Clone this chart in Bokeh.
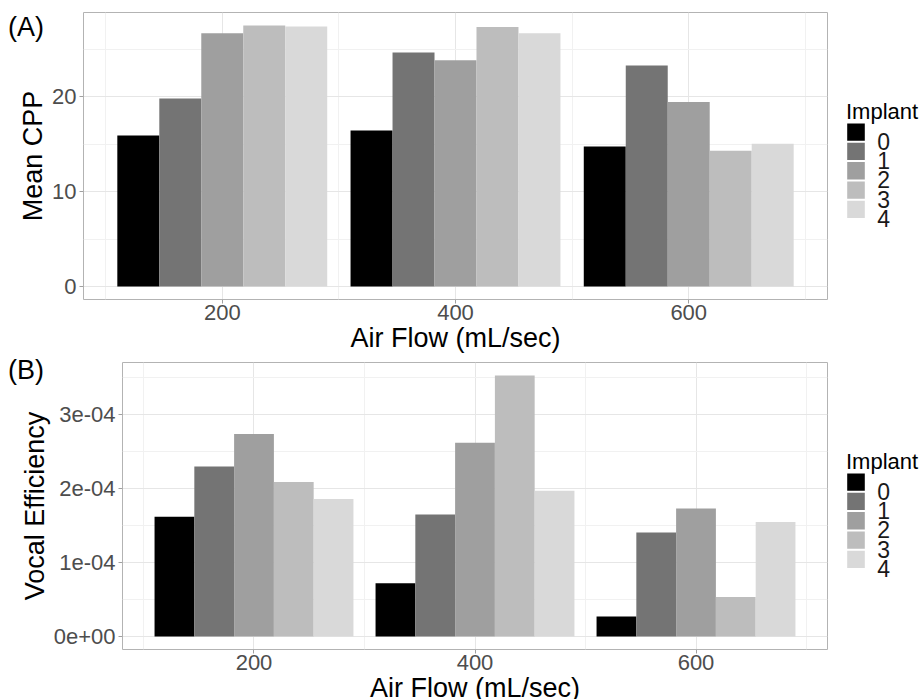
from bokeh.plotting import figure
from bokeh.models import (ColumnDataSource, Range1d, FixedTicker, Div,
                          CustomJSTickFormatter)
from bokeh.layouts import row
from bokeh.transform import dodge
from bokeh.core.properties import value
from bokeh.embed import file_html
from bokeh.resources import INLINE

# ---------------- data ----------------
air_flow = [200, 400, 600]
implant_labels = ["0", "1", "2", "3", "4"]
implant_colors = ["#000000", "#747474", "#9f9f9f", "#bdbdbd", "#d9d9d9"]

cpp_implant0 = [15.9, 16.45, 14.75]
cpp_implant1 = [19.8, 24.65, 23.3]
cpp_implant2 = [26.7, 23.85, 19.45]
cpp_implant3 = [27.5, 27.35, 14.3]
cpp_implant4 = [27.4, 26.7, 15.05]

ve_implant0 = [1.62e-4, 0.72e-4, 0.27e-4]
ve_implant1 = [2.30e-4, 1.65e-4, 1.405e-4]
ve_implant2 = [2.74e-4, 2.62e-4, 1.73e-4]
ve_implant3 = [2.09e-4, 3.53e-4, 0.535e-4]
ve_implant4 = [1.86e-4, 1.97e-4, 1.55e-4]

x_ticks = [200, 400, 600]
x_minor = [100, 300, 500, 700]
cpp_ticks = [0, 10, 20]
cpp_minor = [5, 15, 25]
ve_ticks = [0, 1e-4, 2e-4, 3e-4]
ve_minor = [0.5e-4, 1.5e-4, 2.5e-4, 3.5e-4]

# ---------------- style / layout ----------------
FONT = "Liberation Sans"
BAR_W = 36            # 0.9 * 200 / 5 (dodged bar width)
FRAME_RIGHT = 827     # right edge of both panels
LEG_W = 922 - FRAME_RIGHT - 4
KEY_X, KEY_W, KEY_H = 15.7, 17.6, 17.3
KEY_TOP, KEY_STEP = 111.0, 19.3
LABEL_X = 45.7
TITLE_X, TITLE_BASE = 14.5, 99.0


def make_panel(series, ylabel, ticks, minor, left, top, bottom, formatter=None):
    fw = FRAME_RIGHT - left
    group = BAR_W * len(series)
    lo = min(air_flow) - group / 2
    hi = max(air_flow) + group / 2
    pad = 0.05 * (hi - lo)
    ymax = max(max(s) for s in series)
    p = figure(frame_width=fw, frame_height=287,
               min_border_left=left, min_border_right=4,
               min_border_top=top, min_border_bottom=bottom,
               x_range=Range1d(lo - pad, hi + pad),
               y_range=Range1d(-0.05 * ymax, 1.05 * ymax),
               output_backend="svg", toolbar_location=None,
               background_fill_color="white", border_fill_color="white")
    for i, (vals, col) in enumerate(zip(series, implant_colors)):
        src = ColumnDataSource(dict(flow=air_flow, val=vals))
        p.vbar(x=dodge("flow", (i - 2) * BAR_W, range=None), top="val", bottom=0,
               width=BAR_W, source=src, fill_color=col, line_color=None)

    p.outline_line_color = "#b3b3b3"
    p.outline_line_width = 1

    for ax in (p.xaxis[0], p.yaxis[0]):
        ax.axis_line_color = None
        ax.major_tick_line_color = "#a0a0a0"
        ax.major_tick_in = 0
        ax.major_tick_out = 4
        ax.minor_tick_line_color = None
        ax.major_label_text_font = FONT
        ax.major_label_text_font_size = "22px"
        ax.major_label_text_color = "#4d4d4d"
        ax.axis_label_text_font = FONT
        ax.axis_label_text_font_size = "27px"
        ax.axis_label_text_font_style = "normal"
        ax.axis_label_text_color = "#000000"

    p.xaxis.ticker = FixedTicker(ticks=x_ticks, minor_ticks=x_minor)
    p.yaxis.ticker = FixedTicker(ticks=ticks, minor_ticks=minor)
    p.xaxis.axis_label = "Air Flow (mL/sec)"
    p.yaxis.axis_label = ylabel
    p.xaxis.major_label_standoff = 1
    p.xaxis.axis_label_standoff = 0
    p.yaxis.major_label_standoff = 3
    p.yaxis.axis_label_standoff = 1
    if formatter is not None:
        p.yaxis.formatter = formatter

    for g in (p.xgrid[0], p.ygrid[0]):
        g.grid_line_color = "#e6e6e6"
        g.grid_line_width = 1
        g.minor_grid_line_color = "#f1f1f1"
        g.minor_grid_line_width = 1
    return p


def make_legend(top, bottom):
    lf = figure(frame_width=LEG_W, frame_height=287,
                min_border_left=0, min_border_right=0,
                min_border_top=top, min_border_bottom=bottom,
                x_range=Range1d(0, LEG_W), y_range=Range1d(287, 0),
                output_backend="svg", toolbar_location=None,
                background_fill_color="white", border_fill_color="white")
    lf.outline_line_color = None
    lf.axis.visible = False
    lf.grid.visible = False
    key_center = [KEY_TOP + KEY_STEP * i + KEY_H / 2 for i in range(len(implant_labels))]
    src = ColumnDataSource(dict(lab=implant_labels, col=implant_colors, yc=key_center,
                                yb=[y + 9.0 for y in key_center]))
    lf.rect(x=KEY_X + KEY_W / 2, y="yc", width=KEY_W, height=KEY_H, source=src,
            fill_color="col", line_color=None)
    lf.text(x=LABEL_X, y="yb", text="lab", source=src, text_font=value(FONT),
            text_font_size=value("23px"), text_color="#1a1a1a",
            text_baseline="alphabetic", text_align="left")
    lf.text(x=[TITLE_X], y=[TITLE_BASE], text=["Implant"], text_font=value(FONT),
            text_font_size=value("22px"), text_color="#000000",
            text_baseline="alphabetic", text_align="left")
    return lf


pA = make_panel([cpp_implant0, cpp_implant1, cpp_implant2, cpp_implant3, cpp_implant4],
                "Mean CPP", cpp_ticks, cpp_minor, left=83, top=12, bottom=57)
legA = make_legend(12, 57)

ve_fmt = CustomJSTickFormatter(code="""
if (tick == 0) { return "0e+00"; }
const s = tick.toExponential(0);
const parts = s.split("e");
const sign = parts[1][0];
let d = parts[1].slice(1);
if (d.length < 2) { d = "0" + d; }
return parts[0] + "e" + sign + d;
""")

pB = make_panel([ve_implant0, ve_implant1, ve_implant2, ve_implant3, ve_implant4],
                "Vocal Efficiency", ve_ticks, ve_minor, left=122, top=6, bottom=50,
                formatter=ve_fmt)
legB = make_legend(6, 50)

rowA = row(pA, legA, spacing=0)
rowB = row(pB, legB, spacing=0)


def tag(text, top):
    return Div(text=text, styles={"position": "absolute", "left": "8px", "top": f"{top}px",
                                  "font-size": "27px", "font-family": FONT,
                                  "color": "#000000", "line-height": "1",
                                  "margin": "0", "padding": "0"})


tagA = tag("(A)", 14)
tagB = tag("(B)", 357)

open("out.html", "w").write(file_html([rowA, rowB, tagA, tagB], INLINE))
